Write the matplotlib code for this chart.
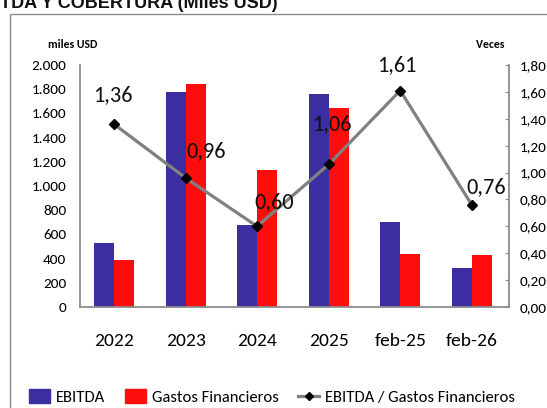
import matplotlib
matplotlib.use("Agg")
import matplotlib.pyplot as plt
from matplotlib.patches import Rectangle, Patch
from matplotlib.lines import Line2D
import numpy as np

# chart data
categories = ["2022", "2023", "2024", "2025", "feb-25", "feb-26"]
ebitda = [526, 1774, 678, 1758, 705, 325]
gastos = [386, 1843, 1132, 1642, 438, 430]
cobertura = [1.36, 0.96, 0.60, 1.06, 1.61, 0.76]
cobertura_labels = ["1,36", "0,96", "0,60", "1,06", "1,61", "0,76"]
left_ticks = [0, 200, 400, 600, 800, 1000, 1200, 1400, 1600, 1800, 2000]
right_ticks = [0.0, 0.2, 0.4, 0.6, 0.8, 1.0, 1.2, 1.4, 1.6, 1.8]

# where each ratio label sits relative to its point (pixels)
label_offsets = [(-1, 29), (21, 27), (17, 24), (3, 40), (-3, 25), (14, 18)]

# Carlito is metric compatible with Calibri, the font of the original
plt.rcParams["font.family"] = ["Carlito", "DejaVu Sans"]

blue = "#3A2EA0"
red = "#FF0D0D"
grey = "#8C8C8C"

fig = plt.figure(figsize=(5.47, 4.08), dpi=100)
ax = fig.add_axes([0.1463, 0.2475, 0.7842, 0.5932])

# outer frame of the chart box (cut by the screenshot)
fig.patches.append(Rectangle((9.5 / 547, -0.2), 1.2, 1 - 14 / 408 + 0.2,
                             transform=fig.transFigure, fill=False,
                             edgecolor="#8a8a8a", lw=1.0))

# title, cut at the top and at the left
fig.text(0.0, 0.980, "TDA Y COBERTURA (Miles USD)", fontsize=13,
         fontweight="bold", family=["Liberation Sans", "DejaVu Sans"],
         ha="left", va="baseline", color="#111111")

x = np.arange(len(categories))
w = 0.28
ax.bar(x - w / 2, ebitda, w, color=blue, zorder=2)
ax.bar(x + w / 2, gastos, w, color=red, zorder=2)

ax.set_xlim(-0.475, 5.52)
ax.set_ylim(0, 2000)
ax.set_yticks(left_ticks)
ax.set_yticklabels(["{:,}".format(t).replace(",", ".") for t in left_ticks],
                   fontsize=11)
ax.set_xticks(x)
ax.set_xticklabels(categories, fontsize=14)
ax.tick_params(axis="x", length=0, pad=19)
ax.tick_params(axis="y", length=0, pad=10)
for s in ["top", "right"]:
    ax.spines[s].set_visible(False)
for s in ["left", "bottom"]:
    ax.spines[s].set_color(grey)
    ax.spines[s].set_linewidth(1.3)

# ratio on the secondary axis
ax2 = ax.twinx()
ax2.plot(x, cobertura, color="#808080", lw=2.3, marker="D", markersize=5,
         markerfacecolor="black", markeredgecolor="black", zorder=3)
ax2.set_ylim(0, 1.8)
ax2.set_yticks(right_ticks)
ax2.set_yticklabels(["{:.2f}".format(t).replace(".", ",") for t in right_ticks],
                    fontsize=11)
ax2.tick_params(axis="y", direction="in", length=3, color=grey, pad=8)
for s in ["top", "left", "bottom"]:
    ax2.spines[s].set_visible(False)
ax2.spines["right"].set_color(grey)
ax2.spines["right"].set_linewidth(1.3)

for xi, yi, lab, off in zip(x, cobertura, cobertura_labels, label_offsets):
    ax2.annotate(lab, (xi, yi), xytext=off, textcoords="offset pixels",
                 ha="center", va="center", fontsize=16, color="#111111")

# axis unit labels
fig.text(73 / 547, 1 - 45 / 408, "miles USD", fontsize=8.5, fontweight="bold",
         ha="center", va="center")
fig.text(490 / 547, 1 - 45 / 408, "Veces", fontsize=8.5, fontweight="bold",
         ha="center", va="center")

handles = [Patch(color=blue), Patch(color=red),
           Line2D([], [], color="#808080", lw=2.3, marker="D", markersize=4,
                  markerfacecolor="black", markeredgecolor="black")]
fig.legend(handles, ["EBITDA", "Gastos Financieros", "EBITDA / Gastos Financieros"],
           loc="center", bbox_to_anchor=(272 / 547, 1 - 397 / 408), ncol=3,
           frameon=False, fontsize=12, handlelength=1.25, handleheight=0.85,
           handletextpad=0.35, columnspacing=1.2, borderaxespad=0)

fig.savefig("out.png", dpi=100)
